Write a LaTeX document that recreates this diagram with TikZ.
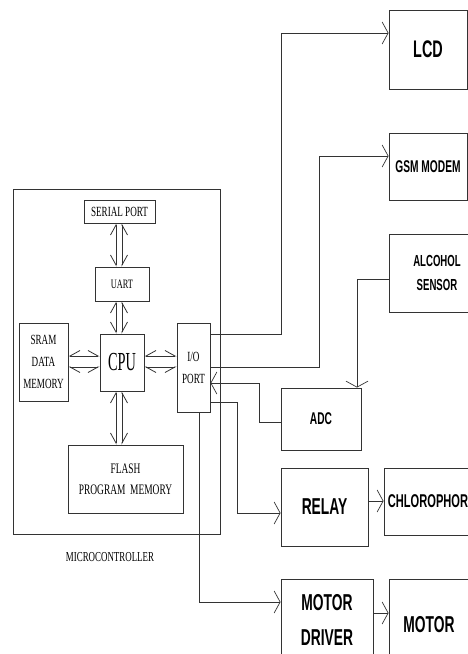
\documentclass[tikz,border=0pt]{standalone}
\usepackage{fontspec}
\usetikzlibrary{arrows.meta, calc}
\newfontfamily\mcfont{Liberation Serif}[FakeStretch=0.65]
\newfontfamily\cpufont{Liberation Serif}[FakeStretch=0.55]
\newfontfamily\blkfont{Liberation Sans}[FakeStretch=0.6]
\newcommand{\blksz}[2]{\blkfont\bfseries\fontsize{#1}{#2}\selectfont}
\definecolor{lnegray}{HTML}{333333}

\begin{document}
\begin{tikzpicture}[x=1pt, y=-1pt,
    blk/.style={draw=lnegray, line width=0.9pt, inner sep=0pt, align=center},
    mcblk/.style={blk, font=\mcfont\fontsize{14}{22}\selectfont},
    half/.style={draw=lnegray, line width=0.8pt, -{Straight Barb[#1,length=10pt,width=11pt]}},
    sig/.style={draw=lnegray, line width=0.7pt, -{Straight Barb[length=6pt,width=22pt]}}]
    \useasboundingbox (0,0) rectangle (468,654);
    \node[blk, minimum width=207pt, minimum height=345pt] (mcu) at (116.5,361.5) {};
    \node[font=\mcfont\fontsize{13.7}{16}\selectfont] (mclabel) at (110,557) {MICROCONTROLLER};
    \node[mcblk, minimum width=71pt, minimum height=23pt] (sp) at (119.5,211.5) {SERIAL PORT};
    \node[mcblk, font=\mcfont\fontsize{12.8}{16}\selectfont, minimum width=54pt, minimum height=34pt] (uart) at (122,284) {UART};
    \node[blk, font=\cpufont\fontsize{26}{30}\selectfont, minimum width=44pt, minimum height=57pt] (cpu) at (122,362.5) {CPU};
    \node[mcblk, minimum width=49pt, minimum height=78pt] (sram) at (43.5,362) {SRAM\\DATA\\MEMORY};
    \node[mcblk, minimum width=33pt, minimum height=89pt] (io) at (193.5,367.5) {I/O\\PORT};
    \node[mcblk, font=\mcfont\fontsize{14.5}{21}\selectfont, minimum width=115pt, minimum height=68pt] (flash) at (125.5,479) {FLASH\\PROGRAM\ \ MEMORY};

    \foreach \a/\b in {sp/uart, uart/cpu, cpu/flash} {
      \coordinate (m) at ($(\a.south)!0.5!(\b.north)$);
      \foreach \x/\u/\d in {116/left/right, 122/right/left} {
        \draw[half=\u] (\x,0 |- m) -- (\x,0 |- \a.south);
        \draw[half=\d] (\x,0 |- m) -- (\x,0 |- \b.north);
      }
    }
    \foreach \a/\b in {sram/cpu, cpu/io} {
      \coordinate (m) at ($(\a.east)!0.5!(\b.west)$);
      \foreach \y/\w/\e in {356/right/left, 367/left/right} {
        \draw[half=\w] (m |- 0,\y) -- (\a.east |- 0,\y);
        \draw[half=\e] (m |- 0,\y) -- (\b.west |- 0,\y);
      }
    }

    \node[blk, font=\blksz{24}{28}, minimum width=78pt, minimum height=79pt] (lcd) at (428,49.5) {LCD};
    \node[blk, font=\blksz{17}{20}, minimum width=78pt, minimum height=67pt] (gsm) at (428,166.5) {GSM MODEM};
    \node[blk, font=\blksz{16}{24}, minimum width=96pt, minimum height=78pt] (alc) at (437,273) {ALCOHOL\\SENSOR};
    \node[blk, font=\blksz{17}{20}, minimum width=80pt, minimum height=62pt] (adc) at (321,419) {ADC};
    \node[blk, font=\blksz{23}{26}, minimum width=87pt, minimum height=78pt] (relay) at (324.5,507) {RELAY};
    \node[blk, font=\blksz{18.5}{22}, minimum width=88pt, minimum height=67pt] (chl) at (428,501.5) {CHLOROPHOR};
    \node[blk, font=\blksz{23}{35}, minimum width=92pt, minimum height=82pt] (md) at (327,620) {MOTOR\\DRIVER};
    \node[blk, font=\blksz{23}{26}, minimum width=80pt, minimum height=92pt] (mot) at (429,625) {MOTOR};

    \draw[sig] (io.east |- 0,334) -| (281,33) -- (lcd.west |- 0,33);
    \draw[sig] (io.east |- 0,367) -| (319,156) -- (gsm.west |- 0,156);
    \draw[sig] (alc.west |- 0,279) -| (357,0 |- adc.north);
    \draw[sig] (adc.west |- 0,422) -| (259,383) -- (io.east |- 0,383);
    \draw[sig] (io.east |- 0,402) -| (237,513) -- (relay.west |- 0,513);
    \draw[sig] (199,0 |- io.south) |- (md.west |- 0,602);
    \draw[sig] (relay.east |- 0,501) -- (chl.west |- 0,501);
    \draw[sig] (md.east |- 0,613) -- (mot.west |- 0,613);
\end{tikzpicture}
\end{document}
